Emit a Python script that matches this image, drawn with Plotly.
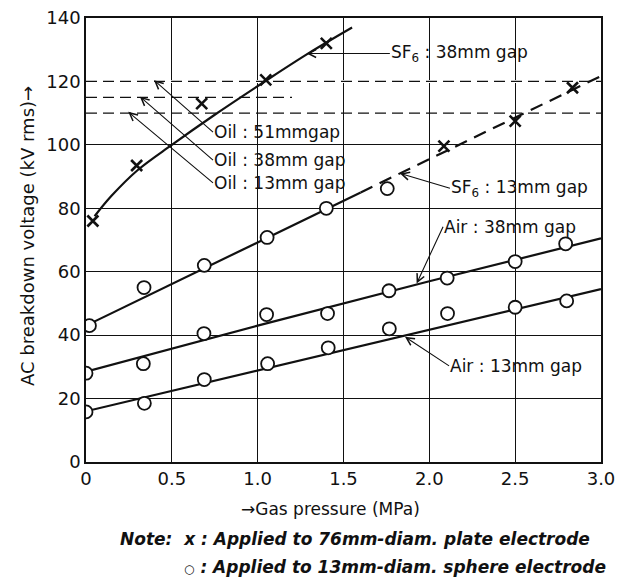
import plotly.graph_objects as go

# ---------------- data ----------------
# SF6 38 mm gap, plate electrode (x)
sf6_38_x_pts = [0.04, 0.295, 0.674, 1.047, 1.40]
sf6_38_y_pts = [76.0, 93.5, 113.0, 120.5, 132.0]
sf6_38_curve_x = [0.05, 0.15, 0.30, 0.50, 0.75, 1.05, 1.30, 1.55]
sf6_38_curve_y = [77.5, 84.0, 92.0, 100.0, 109.5, 120.3, 129.0, 137.0]

# SF6 13 mm gap: sphere (o) and plate (x)
sf6_13_o_x = [0.02, 0.338, 0.689, 1.055, 1.40, 1.755]
sf6_13_o_y = [43.0, 55.0, 62.0, 70.8, 80.0, 86.2]
sf6_13_x_x = [2.085, 2.50, 2.834]
sf6_13_x_y = [99.6, 107.5, 118.0]
sf6_13_solid_x = [0.0, 1.60]
sf6_13_solid_y = [43.0, 85.0]
sf6_13_dash_x = [1.60, 3.0]
sf6_13_dash_y = [85.0, 121.7]

# Air 38 mm gap (o)
air_38_x = [0.0, 0.334, 0.687, 1.052, 1.407, 1.765, 2.104, 2.50, 2.794]
air_38_y = [28.0, 31.0, 40.5, 46.5, 46.8, 54.0, 58.0, 63.2, 68.8]
air_38_line_x = [0.0, 1.0, 2.0, 3.0]
air_38_line_y = [28.5, 43.0, 57.0, 70.5]

# Air 13 mm gap (o)
air_13_x = [0.0, 0.34, 0.689, 1.058, 1.411, 1.767, 2.106, 2.50, 2.80]
air_13_y = [15.8, 18.5, 26.0, 31.0, 36.0, 42.0, 46.8, 48.8, 50.8]
air_13_line_x = [0.0, 3.0]
air_13_line_y = [16.0, 54.5]

# Oil reference levels (dashed)
oil_levels = [120.0, 115.0, 110.0]
oil_x_end = [3.0, 1.2, 3.0]

# tick labels
x_ticks = [0, 0.5, 1.0, 1.5, 2.0, 2.5, 3.0]
x_tick_text = ["0", "0.5", "1.0", "1.5", "2.0", "2.5", "3.0"]
y_ticks = [0, 20, 40, 60, 80, 100, 120, 140]

# labels: text, anchor position (data coords), leader-line head position
label_text = ["SF<sub>6</sub> : 38mm gap", "SF<sub>6</sub> : 13mm gap",
              "Oil : 51mmgap", "Oil : 38mm gap", "Oil : 13mm gap",
              "Air : 38mm gap", "Air : 13mm gap"]
label_x = [1.77, 2.12, 0.74, 0.74, 0.74, 2.08, 2.115]
label_y = [128.8, 86.3, 104.0, 95.2, 88.0, 74.2, 30.3]
lead_head_x = [1.285, 1.829, 0.396, 0.314, 0.246, 1.926, 1.858]
lead_head_y = [128.8, 91.0, 120.4, 115.2, 110.4, 56.3, 39.5]

FONT = "DejaVu Sans"
BLACK = "#111111"

fig = go.Figure()

# white mask over the 120 grid line, then oil dashed lines
fig.add_trace(go.Scatter(x=[0, 3.0], y=[oil_levels[0]] * 2, mode="lines",
                         line=dict(color="white", width=3), hoverinfo="skip"))
for lvl, xe in zip(oil_levels, oil_x_end):
    fig.add_trace(go.Scatter(x=[0, xe], y=[lvl, lvl], mode="lines",
                             line=dict(color=BLACK, width=1.3, dash="11px,6px"),
                             hoverinfo="skip"))

line_style = dict(color=BLACK, width=2.2)
fig.add_trace(go.Scatter(x=sf6_38_curve_x, y=sf6_38_curve_y, mode="lines",
                         line=dict(shape="spline", **line_style)))
fig.add_trace(go.Scatter(x=sf6_13_solid_x, y=sf6_13_solid_y, mode="lines", line=line_style))
fig.add_trace(go.Scatter(x=sf6_13_dash_x, y=sf6_13_dash_y, mode="lines",
                         line=dict(color=BLACK, width=2.2, dash="13px,8px")))
fig.add_trace(go.Scatter(x=air_38_line_x, y=air_38_line_y, mode="lines",
                         line=dict(shape="spline", **line_style)))
fig.add_trace(go.Scatter(x=air_13_line_x, y=air_13_line_y, mode="lines", line=line_style))

circ = dict(symbol="circle", size=13, color="white", line=dict(color=BLACK, width=1.8))
cross = dict(symbol="x-thin", size=11, color=BLACK, line=dict(color=BLACK, width=2.6))
for xs, ys in [(sf6_13_o_x, sf6_13_o_y), (air_38_x, air_38_y), (air_13_x, air_13_y)]:
    fig.add_trace(go.Scatter(x=xs, y=ys, mode="markers", marker=circ))
for xs, ys in [(sf6_38_x_pts, sf6_38_y_pts), (sf6_13_x_x, sf6_13_x_y)]:
    fig.add_trace(go.Scatter(x=xs, y=ys, mode="markers", marker=cross))

annotations = []
for t, x, y, hx, hy in zip(label_text, label_x, label_y, lead_head_x, lead_head_y):
    annotations.append(dict(x=hx, y=hy, ax=x, ay=y, xref="x", yref="y",
                            axref="x", ayref="y", text=t, showarrow=True,
                            arrowhead=5, arrowsize=1.4, arrowwidth=1.1,
                            arrowcolor=BLACK, xanchor="left", yanchor="middle",
                            borderpad=0,
                            font=dict(family=FONT, size=17, color=BLACK)))

# axis titles and notes
annotations.append(dict(x=-0.1146, y=0.509, xref="paper", yref="paper",
                        text="AC breakdown voltage (kV rms)\u2192", textangle=-90,
                        showarrow=False, xanchor="center", yanchor="middle",
                        font=dict(family=FONT, size=18, color=BLACK)))
annotations.append(dict(x=0.474, y=-0.106, xref="paper", yref="paper",
                        text="\u2192Gas pressure (MPa)", showarrow=False,
                        xanchor="center", yanchor="middle",
                        font=dict(family=FONT, size=17, color=BLACK)))
annotations.append(dict(x=0.062, y=-0.173, xref="paper", yref="paper",
                        text="<b><i>Note:  x : Applied to 76mm-diam. plate electrode</i></b>",
                        showarrow=False, xanchor="left", yanchor="middle",
                        font=dict(family=FONT, size=17, color=BLACK)))
annotations.append(dict(x=0.186, y=-0.236, xref="paper", yref="paper",
                        text="<b><i><span style='font-size:12px'>\u25cb</span> : Applied to 13mm-diam. sphere electrode</i></b>",
                        showarrow=False, xanchor="left", yanchor="middle",
                        font=dict(family=FONT, size=17, color=BLACK)))

axis_common = dict(showline=True, linecolor=BLACK, linewidth=1.6, mirror=True,
                   showgrid=True, gridcolor=BLACK, gridwidth=1.1, zeroline=False,
                   automargin=False, ticklabeloverflow="allow",
                   ticks="", tickfont=dict(family=FONT, size=18, color=BLACK))

fig.update_layout(
    width=617, height=581,
    margin=dict(l=86, r=16, t=18, b=119),
    paper_bgcolor="white", plot_bgcolor="white",
    showlegend=False,
    xaxis=dict(range=[0, 3.0], tickvals=x_ticks, ticktext=x_tick_text, **axis_common),
    yaxis=dict(range=[0, 140], tickvals=y_ticks, **axis_common),
    annotations=annotations,
)

# remove the default page margin so the figure sits at the window's corner
fig.write_html("out.html", config={"displayModeBar": False},
               post_script="document.body.style.margin='0';")
